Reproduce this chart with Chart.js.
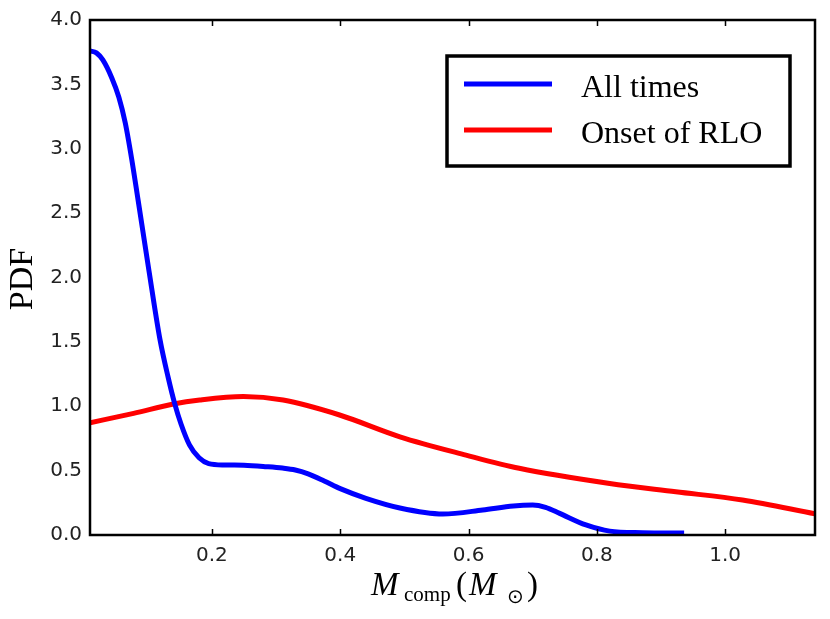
<!DOCTYPE html>
<html>
<head>
<meta charset="utf-8">
<script src="https://cdn.jsdelivr.net/npm/chart.js@4"></script>
<style>
  html, body { margin: 0; padding: 0; background: #fff; }
  #wrap { width: 830px; height: 619px; position: relative; }
</style>
</head>
<body>
<div id="wrap"><canvas id="myChartPdf" width="830" height="619"></canvas></div>
<script>
// series (x in Msun, y = PDF)
const allTimesX = [0.01, 0.02, 0.03, 0.044, 0.055, 0.065, 0.075, 0.085, 0.102, 0.119, 0.132, 0.142, 0.152, 0.165, 0.18, 0.195, 0.22, 0.25, 0.285, 0.31, 0.33, 0.35, 0.375, 0.40, 0.44, 0.493, 0.56, 0.622, 0.67, 0.70, 0.72, 0.742, 0.783, 0.82, 0.871, 0.936];
const allTimesY = [3.76, 3.745, 3.69, 3.55, 3.40, 3.20, 2.92, 2.60, 2.05, 1.52, 1.22, 1.02, 0.86, 0.70, 0.60, 0.555, 0.544, 0.542, 0.531, 0.52, 0.505, 0.475, 0.42, 0.36, 0.285, 0.21, 0.163, 0.194, 0.226, 0.233, 0.215, 0.168, 0.078, 0.03, 0.018, 0.015];
const rloX = [0.01, 0.078, 0.14, 0.181, 0.249, 0.311, 0.399, 0.493, 0.596, 0.679, 0.82, 0.923, 1.027, 1.14];
const rloY = [0.872, 0.945, 1.017, 1.048, 1.075, 1.048, 0.932, 0.763, 0.621, 0.518, 0.40, 0.336, 0.272, 0.165];
const xTicks = [0.2, 0.4, 0.6, 0.8, 1.0];
const yTicks = [0, 0.5, 1, 1.5, 2, 2.5, 3, 3.5, 4];
const labels = ['All times', 'Onset of RLO'];

const pts = (xs, ys) => xs.map((x, i) => ({x: x, y: ys[i]}));

// frame, inner ticks, legend box and axis titles
const decor = {
  id: 'decor',
  afterDatasetsDraw(chart) {
    const ctx = chart.ctx, a = chart.chartArea;
    const sx = chart.scales.x;
    ctx.save();
    ctx.strokeStyle = '#000';
    ctx.lineWidth = 1.5;
    xTicks.forEach(v => {
      const px = Math.round(sx.getPixelForValue(v)) + 0.5;
      ctx.beginPath();
      ctx.moveTo(px, a.bottom); ctx.lineTo(px, a.bottom - 6);
      ctx.moveTo(px, a.top); ctx.lineTo(px, a.top + 6);
      ctx.stroke();
    });
    ctx.lineWidth = 2.5;
    ctx.strokeRect(a.left, a.top, a.right - a.left, a.bottom - a.top);

    // legend
    ctx.fillStyle = '#fff';
    ctx.fillRect(447, 56, 343, 110);
    ctx.lineWidth = 3.5;
    ctx.strokeRect(447, 56, 343, 110);
    ctx.font = '32px "Liberation Serif"';
    ctx.textBaseline = 'alphabetic';
    chart.data.datasets.forEach((ds, i) => {
      const y = 84 + i * 46;
      ctx.strokeStyle = ds.borderColor;
      ctx.lineWidth = 5;
      ctx.beginPath(); ctx.moveTo(464, y); ctx.lineTo(552, y); ctx.stroke();
      ctx.fillStyle = '#000';
      ctx.fillText(ds.label, 581, y + 13);
    });

    // y title
    ctx.save();
    ctx.translate(32, 279);
    ctx.rotate(-Math.PI / 2);
    ctx.textAlign = 'center';
    ctx.font = '34px "Liberation Serif"';
    ctx.fillText('PDF', 0, 0);
    ctx.restore();

    // x title: M_comp (M_sun)
    ctx.textAlign = 'left';
    ctx.font = 'italic 33px "Liberation Serif"';
    ctx.fillText('M', 371, 595);
    ctx.font = '21px "Liberation Serif"';
    ctx.fillText('comp', 404, 601);
    ctx.font = '33px "Liberation Serif"';
    ctx.fillText('(', 456, 595);
    ctx.font = 'italic 33px "Liberation Serif"';
    ctx.fillText('M', 469, 595);
    ctx.font = '20px "DejaVu Sans"';
    ctx.fillText('\u2299', 507, 603);
    ctx.font = '33px "Liberation Serif"';
    ctx.fillText(')', 527, 595);
    ctx.restore();
  }
};

new Chart(document.getElementById('myChartPdf').getContext('2d'), {
  type: 'scatter',
  data: {
    datasets: [
      { label: labels[0], data: pts(allTimesX, allTimesY), borderColor: '#0000ff', borderWidth: 5,
        showLine: true, pointRadius: 0, cubicInterpolationMode: 'monotone' },
      { label: labels[1], data: pts(rloX, rloY), borderColor: '#ff0000', borderWidth: 5,
        showLine: true, pointRadius: 0, cubicInterpolationMode: 'monotone' }
    ]
  },
  options: {
    responsive: false,
    animation: false,
    devicePixelRatio: 1,
    layout: { padding: { left: 0, right: 15, top: 20, bottom: 0 } },
    plugins: { legend: { display: false }, tooltip: { enabled: false } },
    scales: {
      x: {
        type: 'linear', min: 0.01, max: 1.14,
        grid: { display: false, drawTicks: false },
        border: { display: false },
        afterBuildTicks: s => { s.ticks = xTicks.map(v => ({value: v})); },
        afterFit: s => { s.height = 84; },
        ticks: { padding: 9, color: '#222', font: { family: 'DejaVu Sans', size: 20 },
                 callback: v => v.toFixed(1) }
      },
      y: {
        type: 'linear', min: 0, max: 4,
        grid: { display: false, drawTicks: false },
        border: { display: false },
        afterBuildTicks: s => { s.ticks = yTicks.map(v => ({value: v})); },
        afterFit: s => { s.width = 90; },
        ticks: { padding: 8, color: '#222', font: { family: 'DejaVu Sans', size: 20 },
                 callback: v => v.toFixed(1) }
      }
    }
  },
  plugins: [decor]
});
</script>
</body>
</html>
